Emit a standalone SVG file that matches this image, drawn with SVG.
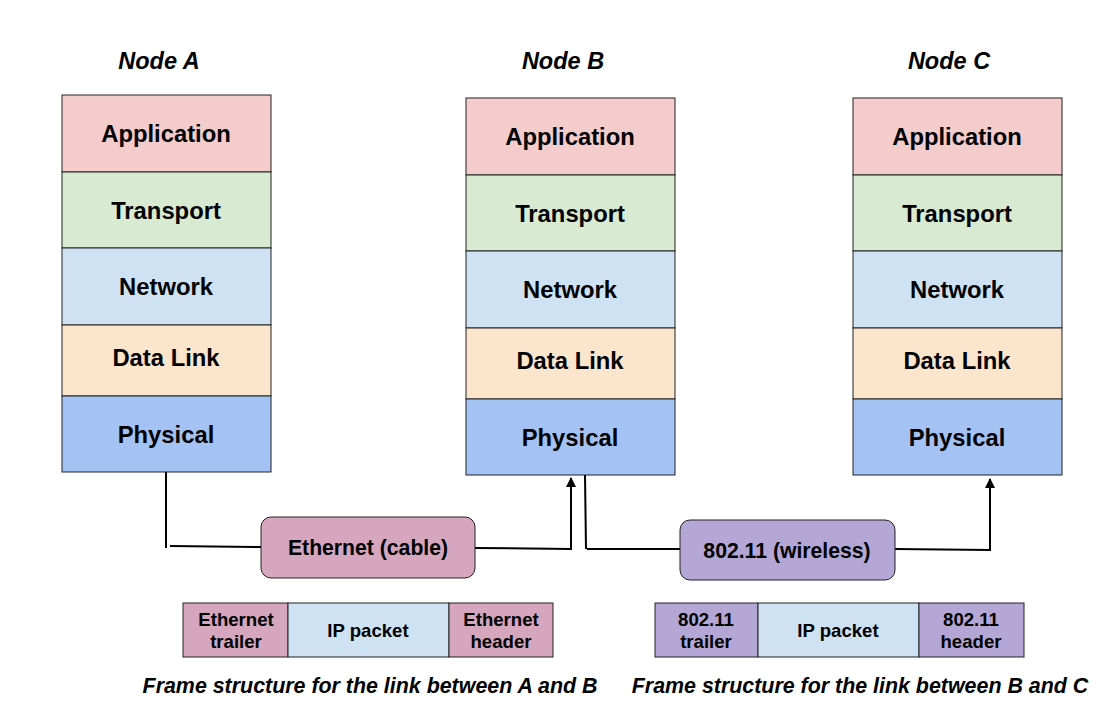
<svg xmlns="http://www.w3.org/2000/svg" width="1118" height="718" viewBox="0 0 1118 718">
<style>
.t{font-family:"Liberation Sans",Arial,sans-serif;font-weight:bold;fill:#000;text-anchor:middle}
.lay{font-size:23.8px}
.hd{font-size:23.5px;font-style:italic}
.cap{font-size:21.4px;font-style:italic}
.lk{font-size:21.2px}
.fr{font-size:18.6px}
.box{stroke:#222;stroke-width:1}
.app{fill:#f4cccc}.tra{fill:#d9ead3}.net{fill:#cfe2f3}.dl{fill:#fce5cd}.phy{fill:#a4c2f4}
.eth{fill:#d5a6bd}.wl{fill:#b4a7d6}
.c{fill:none;stroke:#000;stroke-width:2}
</style>
<defs>
<marker id="ah" viewBox="0 0 10 10" refX="9" refY="5" markerWidth="5" markerHeight="5" orient="auto" markerUnits="strokeWidth">
<path d="M0,0 L10,5 L0,10 z" fill="#000"/>
</marker>
</defs>
<rect width="1118" height="718" fill="#fff"/>

<g id="nodeA">
<text class="t hd" x="159" y="69">Node A</text>
<rect class="box app" x="62" y="95" width="209" height="77"/>
<rect class="box tra" x="62" y="172" width="209" height="76"/>
<rect class="box net" x="62" y="248" width="209" height="77"/>
<rect class="box dl" x="62" y="325" width="209" height="71"/>
<rect class="box phy" x="62" y="396" width="209" height="76"/>
<text class="t lay" x="166" y="142">Application</text>
<text class="t lay" x="166" y="219">Transport</text>
<text class="t lay" x="166" y="295">Network</text>
<text class="t lay" x="166" y="366">Data Link</text>
<text class="t lay" x="166" y="443">Physical</text>
</g>

<g id="nodeB">
<text class="t hd" x="563" y="69">Node B</text>
<rect class="box app" x="466" y="98" width="209" height="77"/>
<rect class="box tra" x="466" y="175" width="209" height="76"/>
<rect class="box net" x="466" y="251" width="209" height="77"/>
<rect class="box dl" x="466" y="328" width="209" height="71"/>
<rect class="box phy" x="466" y="399" width="209" height="76"/>
<text class="t lay" x="570" y="145">Application</text>
<text class="t lay" x="570" y="222">Transport</text>
<text class="t lay" x="570" y="298">Network</text>
<text class="t lay" x="570" y="369">Data Link</text>
<text class="t lay" x="570" y="446">Physical</text>
</g>

<g id="nodeC">
<text class="t hd" x="949" y="69">Node C</text>
<rect class="box app" x="853" y="98" width="209" height="77"/>
<rect class="box tra" x="853" y="175" width="209" height="76"/>
<rect class="box net" x="853" y="251" width="209" height="77"/>
<rect class="box dl" x="853" y="328" width="209" height="71"/>
<rect class="box phy" x="853" y="399" width="209" height="76"/>
<text class="t lay" x="957" y="145">Application</text>
<text class="t lay" x="957" y="222">Transport</text>
<text class="t lay" x="957" y="298">Network</text>
<text class="t lay" x="957" y="369">Data Link</text>
<text class="t lay" x="957" y="446">Physical</text>
</g>

<g id="connectors">
<line class="c" x1="166" y1="472" x2="166" y2="548"/>
<line class="c" x1="170" y1="546" x2="261" y2="547"/>
<polyline class="c" points="475,548 571,549 571,478" marker-end="url(#ah)"/>
<line class="c" x1="585" y1="475" x2="586" y2="549"/>
<line class="c" x1="587" y1="549" x2="680" y2="549"/>
<polyline class="c" points="895,549 990,550 990,479" marker-end="url(#ah)"/>
</g>

<g id="ethernet">
<rect class="box eth" x="261" y="517" width="214" height="61" rx="10"/>
<text class="t lk" x="368" y="555">Ethernet (cable)</text>
</g>

<g id="wireless">
<rect class="box wl" x="680" y="520" width="215" height="60" rx="10"/>
<text class="t lk" x="787" y="558">802.11 (wireless)</text>
</g>

<g id="frameAB">
<rect class="box eth" x="183" y="603" width="105" height="54"/>
<rect class="box net" x="288" y="603" width="161" height="54"/>
<rect class="box eth" x="449" y="603" width="104" height="54"/>
<text class="t fr" x="236" y="626">Ethernet</text>
<text class="t fr" x="236" y="648">trailer</text>
<text class="t fr" x="368" y="637">IP packet</text>
<text class="t fr" x="501" y="626">Ethernet</text>
<text class="t fr" x="501" y="648">header</text>
<text class="t cap" x="370" y="693">Frame structure for the link between A and B</text>
</g>

<g id="frameBC">
<rect class="box wl" x="655" y="603" width="103" height="54"/>
<rect class="box net" x="758" y="603" width="161" height="54"/>
<rect class="box wl" x="919" y="603" width="105" height="54"/>
<text class="t fr" x="706" y="626">802.11</text>
<text class="t fr" x="706" y="648">trailer</text>
<text class="t fr" x="838" y="637">IP packet</text>
<text class="t fr" x="971" y="626">802.11</text>
<text class="t fr" x="971" y="648">header</text>
<text class="t cap" x="860" y="693">Frame structure for the link between B and C</text>
</g>
</svg>
